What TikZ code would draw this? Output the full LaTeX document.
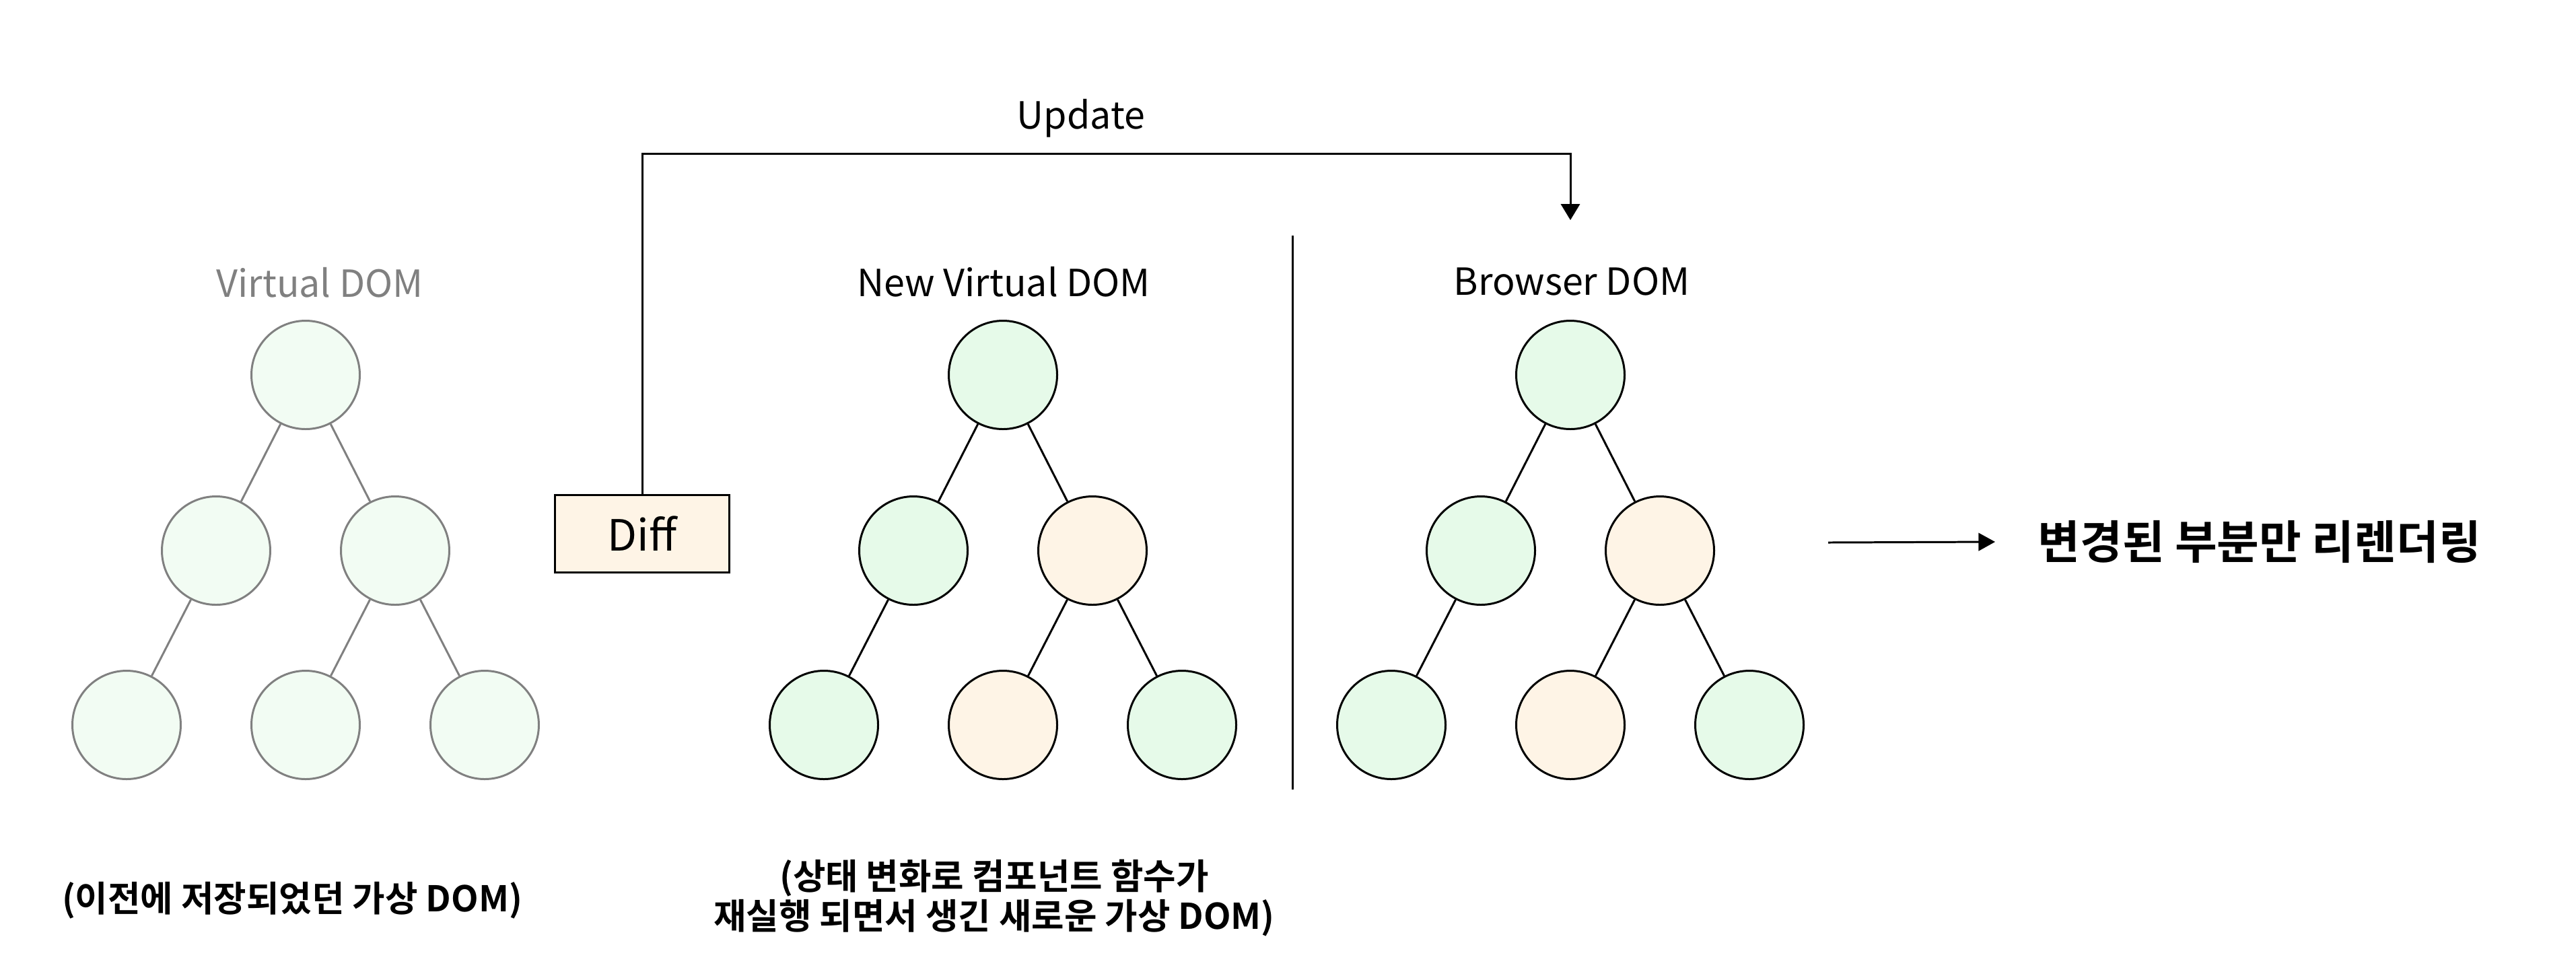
\documentclass[tikz,border=0pt]{standalone}
\usepackage{fontspec}
\setmainfont{Noto Sans CJK KR}[BoldFont={Noto Sans CJK KR Bold}]
\usetikzlibrary{arrows.meta}

\definecolor{old fill}{RGB}{242,252,243}
\definecolor{old line}{RGB}{128,128,128}
\definecolor{same fill}{RGB}{230,250,233}
\definecolor{diff fill}{RGB}{254,244,230}

\tikzset{
  old node/.style={circle, draw=old line, fill=old fill, line width=0.85pt, minimum size=16.1mm, inner sep=0pt},
  same node/.style={circle, draw=black, fill=same fill, line width=0.85pt, minimum size=16.1mm, inner sep=0pt},
  diff node/.style={same node, fill=diff fill},
  title node/.style={font=\fontsize{15.8}{19}\selectfont, inner sep=0pt},
  note node/.style={font=\fontsize{15}{17}\selectfont\bfseries, align=center, inner sep=0pt}
}

\begin{document}
\begin{tikzpicture}[x=1mm,y=1mm,line width=0.85pt]
  \useasboundingbox (0,0) rectangle (382.7,-145.2);

  % old virtual dom
  \node [title node, text=old line] (old title) at (47.5,-42.0) {Virtual DOM};
  \node [old node] (o1) at (45.4,-55.7) {};
  \node [old node] (o2) at (32.1,-81.8) {};
  \node [old node] (o3) at (58.7,-81.8) {};
  \node [old node] (o4) at (18.8,-107.7) {};
  \node [old node] (o5) at (45.4,-107.7) {};
  \node [old node] (o6) at (72.0,-107.7) {};
  \draw [old line] (o1)--(o2) (o1)--(o3) (o2)--(o4) (o3)--(o5) (o3)--(o6);
  \node [note node] (old note) at (43.4,-133.8) {(이전에 저장되었던 가상 DOM)};

  % diff and update
  \node [draw, fill=diff fill, minimum width=25.9mm, minimum height=11.5mm, inner sep=0pt,
         font=\fontsize{18.2}{22}\selectfont] (diff) at (95.4,-79.3) {Diff};
  \coordinate (upd top) at (233.3,-22.8);
  \coordinate (upd) at (233.3,-32.7);
  \draw [-{Triangle[length=6.8pt,width=8pt]}] (diff.north) |- (upd top) -- (upd);
  \node [title node] (update) at (160.6,-17.6) {Update};

  % new virtual dom and browser dom
  \node [title node] (new title) at (149.1,-41.9) {New Virtual DOM};
  \node [title node] (browser title) at (233.5,-41.8) {Browser DOM};
  \foreach \t/\x in {n/149.0,b/233.3} {
    \node [same node] (\t1) at (\x,-55.7) {};
    \node [same node] (\t2) at (\x-13.3,-81.8) {};
    \node [diff node] (\t3) at (\x+13.3,-81.8) {};
    \node [same node] (\t4) at (\x-26.6,-107.7) {};
    \node [diff node] (\t5) at (\x,-107.7) {};
    \node [same node] (\t6) at (\x+26.6,-107.7) {};
    \draw (\t1)--(\t2) (\t1)--(\t3) (\t2)--(\t4) (\t3)--(\t5) (\t3)--(\t6);
  }
  \draw (192.0,-35.0) -- (192.0,-117.3);
  \node [note node] (new note) at (147.7,-133.4) {(상태 변화로 컴포넌트 함수가\\재실행 되면서 생긴 새로운 가상 DOM)};

  % result
  \node [anchor=west, inner sep=0pt, font=\fontsize{19.4}{23}\selectfont\bfseries] (result) at (302.6,-80.5) {변경된 부분만 리렌더링};
  \coordinate (res start) at (271.6,-80.6);
  \draw [-{Triangle[length=7pt,width=7.5pt]}] (res start) -- ([xshift=-6.2mm]result.west);

\end{tikzpicture}
\end{document}
